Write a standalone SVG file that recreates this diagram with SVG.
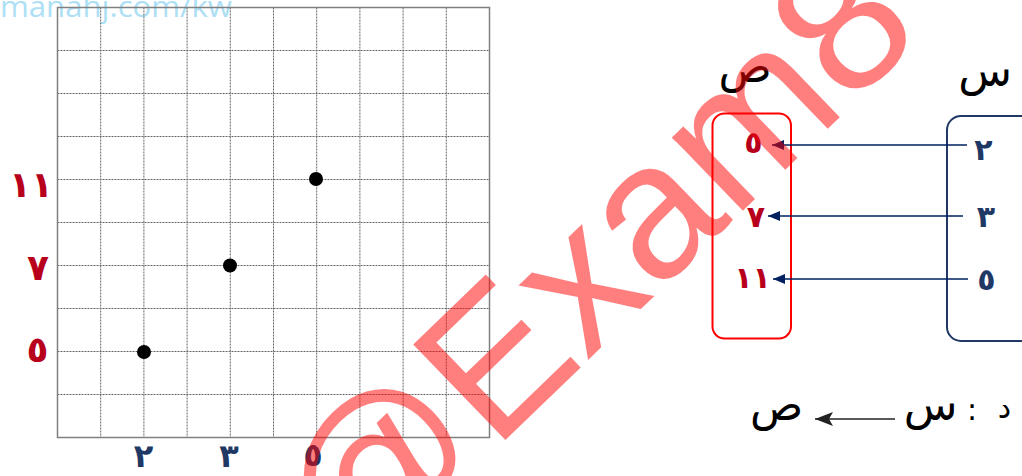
<svg xmlns="http://www.w3.org/2000/svg" width="1022" height="476" viewBox="0 0 1022 476">
<style>
.bg{fill:#ffffff}
.grid line{stroke:#666;stroke-width:1;stroke-dasharray:2 1}
.frame{fill:none;stroke:#808080;stroke-width:1.5}
.pt{fill:#000}
.ar{font-family:"DejaVu Sans",sans-serif;font-weight:bold;text-anchor:middle}
.red{fill:#b8001c}
.navy{fill:#1f3864}
.lbl{font-family:"DejaVu Sans",sans-serif;text-anchor:middle;fill:#000}
.conn{stroke:#002060;stroke-width:1.5;fill:none}
.wm{font-family:"Liberation Sans",Arial,sans-serif;fill:#ff0000;fill-opacity:0.5}
.wm2{font-family:"Open Sans",sans-serif;fill:#aee0f5}
</style>
<defs>
<marker id="ah" markerUnits="userSpaceOnUse" markerWidth="12" markerHeight="10" refX="12" refY="5" orient="auto"><path d="M0,0 L12,5 L0,10 z" fill="#002060"/></marker>
<marker id="ahk" markerUnits="userSpaceOnUse" markerWidth="18" markerHeight="14" refX="18" refY="7" orient="auto"><path d="M0,0 L18,7 L0,14 L4,7 z" fill="#222"/></marker>
</defs>
<rect class="bg" x="0" y="0" width="1022" height="476"/>
<text class="wm2" x="0" y="17" font-size="30" textLength="232" lengthAdjust="spacingAndGlyphs">manahj.com/kw</text>
<g id="grid">
<g class="grid">
<line x1="100.7" y1="7.5" x2="100.7" y2="437.5"/>
<line x1="143.9" y1="7.5" x2="143.9" y2="437.5"/>
<line x1="187.1" y1="7.5" x2="187.1" y2="437.5"/>
<line x1="230.3" y1="7.5" x2="230.3" y2="437.5"/>
<line x1="273.5" y1="7.5" x2="273.5" y2="437.5"/>
<line x1="316.7" y1="7.5" x2="316.7" y2="437.5"/>
<line x1="359.9" y1="7.5" x2="359.9" y2="437.5"/>
<line x1="403.1" y1="7.5" x2="403.1" y2="437.5"/>
<line x1="446.3" y1="7.5" x2="446.3" y2="437.5"/>
<line x1="57.5" y1="50.5" x2="489.5" y2="50.5"/>
<line x1="57.5" y1="93.5" x2="489.5" y2="93.5"/>
<line x1="57.5" y1="136.5" x2="489.5" y2="136.5"/>
<line x1="57.5" y1="179.5" x2="489.5" y2="179.5"/>
<line x1="57.5" y1="222.5" x2="489.5" y2="222.5"/>
<line x1="57.5" y1="265.5" x2="489.5" y2="265.5"/>
<line x1="57.5" y1="308.5" x2="489.5" y2="308.5"/>
<line x1="57.5" y1="351.5" x2="489.5" y2="351.5"/>
<line x1="57.5" y1="394.5" x2="489.5" y2="394.5"/>
</g>
<rect class="frame" x="57.5" y="7.5" width="432" height="430"/>
</g>
<g id="points">
<circle class="pt" cx="144" cy="352" r="7"/>
<circle class="pt" cx="230" cy="265.5" r="7"/>
<circle class="pt" cx="316" cy="179" r="7"/>
</g>
<g id="y-labels">
<text class="ar red" x="31" y="197" font-size="36">١١</text>
<text class="ar red" x="38" y="280" font-size="36">٧</text>
<text class="ar red" x="37.5" y="362" font-size="36">٥</text>
</g>
<g id="x-labels">
<text class="ar navy" x="143.5" y="467" font-size="32">٢</text>
<text class="ar navy" x="229" y="467" font-size="32">٣</text>
<text class="ar navy" x="313" y="466" font-size="32">٥</text>
</g>
<g id="range-set">
<rect x="712.5" y="113.5" width="78.5" height="225" rx="12" fill="none" stroke="#ff0000" stroke-width="2"/>
<text class="lbl" x="745" y="82" font-size="44">ص</text>
<text class="ar red" x="753.5" y="153" font-size="30">٥</text>
<text class="ar red" x="756" y="227" font-size="30">٧</text>
<text class="ar red" x="752.5" y="288" font-size="30">١١</text>
</g>
<g id="domain-set">
<rect x="947" y="116" width="95" height="225" rx="14" fill="none" stroke="#1f3864" stroke-width="2"/>
<text class="lbl" x="985" y="86" font-size="44">س</text>
<text class="ar navy" x="983.5" y="160" font-size="30">٢</text>
<text class="ar navy" x="986" y="227" font-size="30">٣</text>
<text class="ar navy" x="986.5" y="290" font-size="30">٥</text>
</g>
<g id="connectors">
<line class="conn" x1="967" y1="145" x2="772" y2="145" marker-end="url(#ah)"/>
<line class="conn" x1="963" y1="216" x2="768" y2="216" marker-end="url(#ah)"/>
<line class="conn" x1="968" y1="279" x2="773" y2="279" marker-end="url(#ah)"/>
</g>
<g id="formula">
<text class="lbl" x="1004.5" y="418" font-size="30">د</text>
<text class="lbl" x="972" y="420" font-size="30">:</text>
<text class="lbl" x="930.5" y="420" font-size="44">س</text>
<line x1="895" y1="419" x2="815" y2="419" stroke="#222" stroke-width="1.5" marker-end="url(#ahk)"/>
<text class="lbl" x="776.5" y="420" font-size="44">ص</text>
</g>
<text class="wm" transform="translate(353,587) rotate(-44)" font-size="193">@Exam8</text>
</svg>
